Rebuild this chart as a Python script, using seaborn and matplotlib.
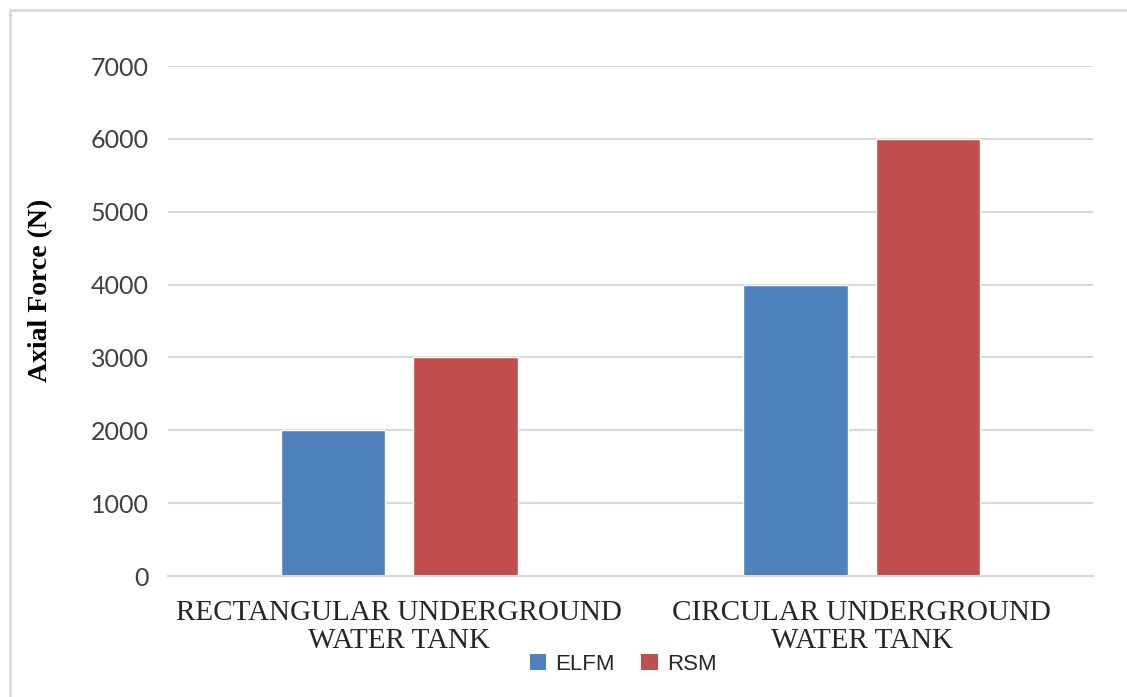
import matplotlib
matplotlib.use("Agg")
import matplotlib.pyplot as plt
from matplotlib.patches import Rectangle, Patch
import seaborn as sns
import pandas as pd

# Chart data
categories = ["RECTANGULAR UNDERGROUND\nWATER TANK", "CIRCULAR UNDERGROUND\nWATER TANK"]
methods = ["ELFM", "RSM"]
elfm_values = [2000, 4000]
rsm_values = [3000, 6000]
y_ticks = [0, 1000, 2000, 3000, 4000, 5000, 6000, 7000]

colors = {"ELFM": "#4F81BD", "RSM": "#C0504D"}
grid_color = "#D9D9D9"

df = pd.DataFrame({
    "category": categories * 2,
    "method": ["ELFM"] * len(categories) + ["RSM"] * len(categories),
    "value": elfm_values + rsm_values,
})

sns.set_theme(style="white")
plt.rcParams["font.family"] = ["Liberation Serif", "DejaVu Serif"]

W, H = 1127, 697
fig = plt.figure(figsize=(W / 100, H / 100), dpi=100)
ax = fig.add_axes([168 / W, 1 - 576 / H, (1093 - 168) / W, (576 - 66) / H])

sns.barplot(data=df, x="category", y="value", hue="method", order=categories,
            hue_order=methods, palette=colors, width=0.573, gap=0.214,
            saturation=1, errorbar=None, legend=False, ax=ax)

ax.set_ylim(0, 7000)
ax.set_yticks(y_ticks)
ax.set_yticklabels([str(v) for v in y_ticks], family="Lato", fontsize=18, color="#404040")
ax.set_xlim(-0.5, 1.5)
ax.set_xlabel("")
ax.set_ylabel("Axial Force (N)", fontsize=20, fontweight="bold", color="black")
ax.yaxis.set_label_coords(-0.124, 0.561)

for lbl in ax.get_xticklabels():
    lbl.set_fontsize(21)
    lbl.set_color("#262626")
    lbl.set_linespacing(1.1)

ax.tick_params(axis="both", length=0)
ax.tick_params(axis="x", pad=17)
ax.tick_params(axis="y", pad=14)

ax.set_axisbelow(True)
ax.yaxis.grid(True, color=grid_color, linewidth=1.5)
for side in ["left", "right", "top"]:
    ax.spines[side].set_visible(False)
ax.spines["bottom"].set_color(grid_color)
ax.spines["bottom"].set_linewidth(1.5)

# Outer chart border
fig.add_artist(Rectangle((10 / W, -0.1), 1.2, 1.1 - 10 / H, transform=fig.transFigure,
                         fill=False, edgecolor="#D9D9D9", linewidth=2))

handles = [Patch(facecolor=colors[m], edgecolor="none", label=m) for m in methods]
fig.legend(handles=handles, loc="center", bbox_to_anchor=(623 / W, 1 - 664 / H), ncol=2,
           frameon=False, prop={"family": "Liberation Sans", "size": 16},
           handlelength=0.75, handleheight=0.75, handletextpad=0.4, columnspacing=1.2,
           labelcolor="#262626")

fig.savefig("out.png", dpi=100)
